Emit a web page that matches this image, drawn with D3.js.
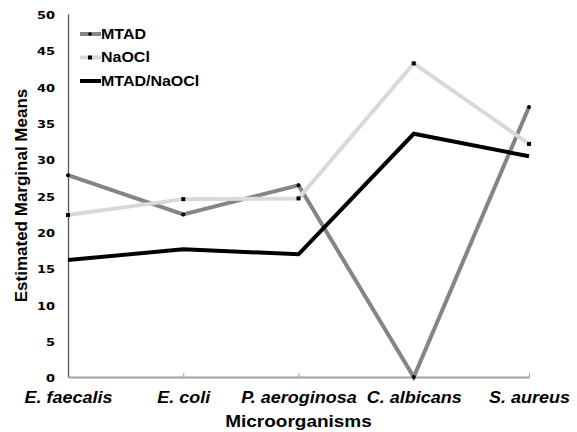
<!DOCTYPE html>
<html>
<head>
<meta charset="utf-8">
<script src="https://cdn.jsdelivr.net/npm/d3@7"></script>
<style>
  body { margin: 0; background: #fff; }
  svg text { font-family: "Liberation Sans", Arial, sans-serif; font-weight: bold; fill: #000; }
</style>
</head>
<body>
<div id="chart"></div>
<script>
// data
var categories = ["E. faecalis", "E. coli", "P. aeroginosa", "C. albicans", "S. aureus"];
var mtad = [27.8, 22.4, 26.4, 0, 37.2];
var naocl = [22.3, 24.5, 24.6, 43.2, 32.1];
var combo = [16.1, 17.6, 16.9, 33.5, 30.4];
var yTicks = [0, 5, 10, 15, 20, 25, 30, 35, 40, 45, 50];

var series = [
  {name: "MTAD", values: mtad, color: "#858585", marker: "dot"},
  {name: "NaOCl", values: naocl, color: "#d9d9d9", marker: "square"},
  {name: "MTAD/NaOCl", values: combo, color: "#000000", marker: null}
];

var width = 577, height = 432;
var margin = {top: 14, right: 48, bottom: 55, left: 68};

var svg = d3.select("#chart").append("svg")
  .attr("width", width)
  .attr("height", height);

var x = d3.scalePoint()
  .domain(categories)
  .range([margin.left, width - margin.right]);

var y = d3.scaleLinear()
  .domain([0, 50])
  .range([height - margin.bottom, margin.top]);

// y axis
var yAxis = svg.append("g")
  .attr("transform", "translate(" + margin.left + ",0)")
  .call(d3.axisLeft(y).tickValues(yTicks).tickSize(0).tickPadding(13));
yAxis.select(".domain").attr("stroke", "#555").attr("stroke-width", 1.3);
yAxis.selectAll(".tick text")
  .style("font-family", "'DejaVu Sans', sans-serif")
  .style("font-size", "13px")
  .attr("x", null).attr("dy", "0.36em")
  .attr("transform", "translate(-13,1) scale(1,0.78)");

// x axis, ticks pointing up
var xAxis = svg.append("g")
  .attr("transform", "translate(0," + y(0) + ")")
  .call(d3.axisBottom(x).tickSizeInner(-4).tickSizeOuter(0));
xAxis.select(".domain").attr("stroke", "#a0a0a0").attr("stroke-width", 2);
xAxis.selectAll(".tick line").attr("stroke", "#a0a0a0").attr("stroke-width", 1)
  .filter(function(d, i) { return i === 0; }).remove();
xAxis.selectAll(".tick text")
  .style("font-size", "18px")
  .style("font-style", "italic")
  .attr("y", null).attr("dy", null)
  .attr("transform", "translate(0,26) scale(1,0.9)");

// axis titles
svg.append("text")
  .attr("transform", "translate(27," + ((y(0) + y(50)) / 2) + ") rotate(-90)")
  .attr("text-anchor", "middle")
  .style("font-size", "17px")
  .text("Estimated Marginal Means");

svg.append("text")
  .attr("transform", "translate(" + ((x.range()[0] + x.range()[1]) / 2) + ",427) scale(1,0.86)")
  .attr("text-anchor", "middle")
  .style("font-size", "19px")
  .text("Microorganisms");

var line = d3.line()
  .x(function(d, i) { return x(categories[i]); })
  .y(function(d) { return y(d); });

series.forEach(function(s) {
  svg.append("path")
    .datum(s.values)
    .attr("fill", "none")
    .attr("stroke", s.color)
    .attr("stroke-width", 4)
    .attr("stroke-linejoin", "miter")
    .attr("d", line);
});

series.forEach(function(s) {
  if (s.marker === "dot") {
    svg.selectAll(null).data(s.values).enter().append("circle")
      .attr("cx", function(d, i) { return x(categories[i]); })
      .attr("cy", function(d) { return y(d); })
      .attr("r", 2)
      .attr("fill", "#000");
  } else if (s.marker === "square") {
    svg.selectAll(null).data(s.values).enter().append("rect")
      .attr("x", function(d, i) { return x(categories[i]) - 2; })
      .attr("y", function(d) { return y(d) - 2; })
      .attr("width", 4)
      .attr("height", 4)
      .attr("fill", "#000");
  }
});

// legend
var legend = svg.append("g").attr("transform", "translate(80,34)");
series.forEach(function(s, i) {
  var g = legend.append("g").attr("transform", "translate(0," + (i * 23.5) + ")");
  g.append("line")
    .attr("x1", 0).attr("x2", 21)
    .attr("stroke", s.color)
    .attr("stroke-width", 4);
  if (s.marker === "dot") {
    g.append("circle").attr("cx", 10).attr("r", 1.8).attr("fill", "#000");
  } else if (s.marker === "square") {
    g.append("rect").attr("x", 8).attr("y", -2).attr("width", 4).attr("height", 4).attr("fill", "#000");
  }
  g.append("text")
    .attr("transform", "translate(21,0) scale(1,0.86)")
    .attr("dy", "0.36em")
    .style("font-size", "16px")
    .text(s.name);
});
</script>
</body>
</html>
